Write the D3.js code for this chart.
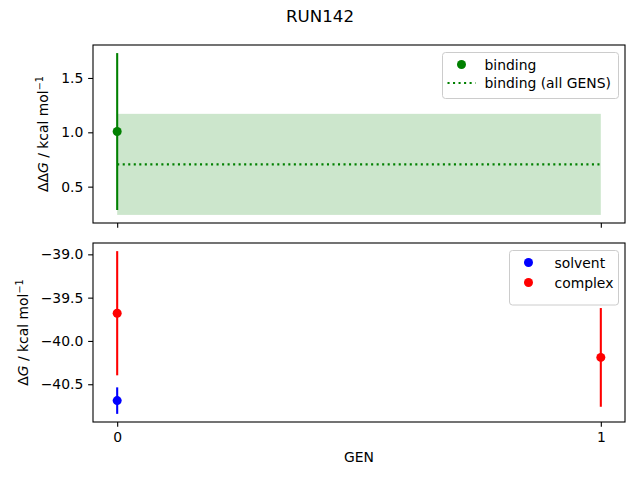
<!DOCTYPE html>
<html><head><meta charset="utf-8">
<script src="https://cdn.jsdelivr.net/npm/d3@7"></script>
<style>body{margin:0;background:#fff}svg{display:block}text{font-family:"DejaVu Sans",sans-serif;fill:#000}</style>
</head><body>
<script>
const title = "RUN142";
const gens = [0, 1];
// binding per GEN
const bindingGen = [0];
const bindingVal = [1.007];
const bindingErr = [0.722];
// binding over all GENS
const allMean = 0.705;
const allErr = 0.465;
// solvent / complex
const solventGen = [0];
const solventVal = [-40.689];
const solventErr = [0.153];
const complexGen = [0, 1];
const complexVal = [-39.68, -40.19];
const complexErr = [0.717, 0.57];
const topTicks = [0.5, 1.0, 1.5];
const botTicks = [-39.0, -39.5, -40.0, -40.5];

const W = 640, H = 480;
const svg = d3.select("body").append("svg").attr("width", W).attr("height", H);
const L = 93, R = 625;
const top1 = 45, bot1 = 223, top2 = 243, bot2 = 422;
const MR = 4.5;
const x = d3.scaleLinear().domain([-0.05, 1.05]).range([L, R]);

function padDomain(lo, hi) { const m = (hi - lo) * 0.05; return [lo - m, hi + m]; }
const yTopDom = padDomain(Math.min(allMean - allErr, ...bindingVal.map((v, i) => v - bindingErr[i])),
                          Math.max(allMean + allErr, ...bindingVal.map((v, i) => v + bindingErr[i])));
const y1 = d3.scaleLinear().domain(yTopDom).range([bot1, top1]);
const allLo = solventVal.map((v, i) => v - solventErr[i]).concat(complexVal.map((v, i) => v - complexErr[i]));
const allHi = solventVal.map((v, i) => v + solventErr[i]).concat(complexVal.map((v, i) => v + complexErr[i]));
const y2 = d3.scaleLinear().domain(padDomain(Math.min(...allLo), Math.max(...allHi))).range([bot2, top2]);

const fmt = d => d3.format(".1f")(d).replace("-", "\u2212");
const tickLen = 4.86;

function drawAxes(y, yt, ticks, showXLabels, fs) {
  const g = svg.append("g");
  const ya = d3.axisLeft(y).tickValues(ticks).tickFormat(fmt).tickSize(tickLen).tickPadding(4.86);
  const gy = g.append("g").attr("transform", `translate(${L},0)`).call(ya);
  gy.select(".domain").remove();
  gy.selectAll("line").attr("stroke", "#000").attr("stroke-width", 1.1);
  gy.selectAll("text").style("font-size", "13.9px").style("font-family", "DejaVu Sans").attr("fill", "#000");
  const xa = d3.axisBottom(x).tickValues(gens).tickFormat(showXLabels ? d3.format("d") : () => "").tickSize(tickLen).tickPadding(4.86);
  const gx = g.append("g").attr("transform", `translate(0,${y.range()[0]})`).call(xa);
  gx.select(".domain").remove();
  gx.selectAll("line").attr("stroke", "#000").attr("stroke-width", 1.1);
  gx.selectAll("text").style("font-size", "13.9px").style("font-family", "DejaVu Sans").attr("fill", "#000");
  return g;
}
function frame(y) {
  svg.append("rect").attr("x", L).attr("y", y.range()[1]).attr("width", R - L).attr("height", y.range()[0] - y.range()[1])
    .attr("fill", "none").attr("stroke", "#000").attr("stroke-width", 1.1);
}

// ----- top panel
drawAxes(y1, 0, topTicks, false);
svg.append("rect").attr("x", x(gens[0])).attr("width", x(gens[gens.length - 1]) - x(gens[0]))
  .attr("y", y1(allMean + allErr)).attr("height", y1(allMean - allErr) - y1(allMean + allErr))
  .attr("fill", "green").attr("fill-opacity", 0.2);
svg.append("line").attr("x1", x(gens[0])).attr("x2", x(gens[gens.length - 1])).attr("y1", y1(allMean)).attr("y2", y1(allMean))
  .attr("stroke", "green").attr("stroke-width", 2.08).attr("stroke-dasharray", "2.08,3.44");
bindingGen.forEach((g, i) => {
  svg.append("line").attr("x1", x(g)).attr("x2", x(g)).attr("y1", y1(bindingVal[i] - bindingErr[i])).attr("y2", y1(bindingVal[i] + bindingErr[i]))
    .attr("stroke", "green").attr("stroke-width", 2.08);
  svg.append("circle").attr("cx", x(g)).attr("cy", y1(bindingVal[i])).attr("r", MR).attr("fill", "green");
});
frame(y1);

// ----- bottom panel
drawAxes(y2, 0, botTicks, true);
function series(gs, vals, errs, col) {
  gs.forEach((g, i) => {
    svg.append("line").attr("x1", x(g)).attr("x2", x(g)).attr("y1", y2(vals[i] - errs[i])).attr("y2", y2(vals[i] + errs[i]))
      .attr("stroke", col).attr("stroke-width", 2.08);
    svg.append("circle").attr("cx", x(g)).attr("cy", y2(vals[i])).attr("r", MR).attr("fill", col);
  });
}
series(solventGen, solventVal, solventErr, "blue");
series(complexGen, complexVal, complexErr, "red");
frame(y2);

// title & labels
svg.append("text").attr("x", 320).attr("y", 22).attr("text-anchor", "middle").style("font-size", "16.67px").text(title);
svg.append("text").attr("x", (L + R) / 2).attr("y", 462).attr("text-anchor", "middle").style("font-size", "13.9px").text("GEN");

function ylabel(cx, cy, prefix) {
  const t = svg.append("text").attr("transform", `translate(${cx},${cy}) rotate(-90)`).attr("text-anchor", "middle")
    .style("font-size", "13.9px");
  t.append("tspan").text(prefix);
  t.append("tspan").style("font-style", "italic").text("G");
  t.append("tspan").text(" / kcal mol");
  t.append("tspan").attr("dy", -5).style("font-size", "9.7px").text("\u22121");
}
ylabel(48, (top1 + bot1) / 2, "\u0394\u0394");
ylabel(28, (top2 + bot2) / 2, "\u0394");

// legends
function legend(x0, y0, w, h, items) {
  svg.append("rect").attr("x", x0).attr("y", y0).attr("width", w).attr("height", h).attr("rx", 3)
    .attr("fill", "#fff").attr("fill-opacity", 0.8).attr("stroke", "#ccc").attr("stroke-width", 1);
  items.forEach((it, i) => {
    const yy = y0 + 12 + i * it.step;
    if (it.type === "dot") svg.append("circle").attr("cx", x0 + 19).attr("cy", yy).attr("r", MR).attr("fill", it.color);
    else svg.append("line").attr("x1", x0 + 5).attr("x2", x0 + 33).attr("y1", yy).attr("y2", yy)
      .attr("stroke", it.color).attr("stroke-width", 2.08).attr("stroke-dasharray", "2.08,3.44");
    svg.append("text").attr("x", x0 + it.tx).attr("y", yy + 5).style("font-size", "13.9px").text(it.label);
  });
}
legend(442.5, 52.5, 176, 46, [
  { type: "dot", color: "green", label: "binding", tx: 42, step: 18.5 },
  { type: "line", color: "green", label: "binding (all GENS)", tx: 42, step: 18.5 }
]);
legend(509.5, 250.5, 109, 54.5, [
  { type: "dot", color: "blue", label: "solvent", tx: 45, step: 20 },
  { type: "dot", color: "red", label: "complex", tx: 45, step: 20 }
]);
</script>
</body></html>
